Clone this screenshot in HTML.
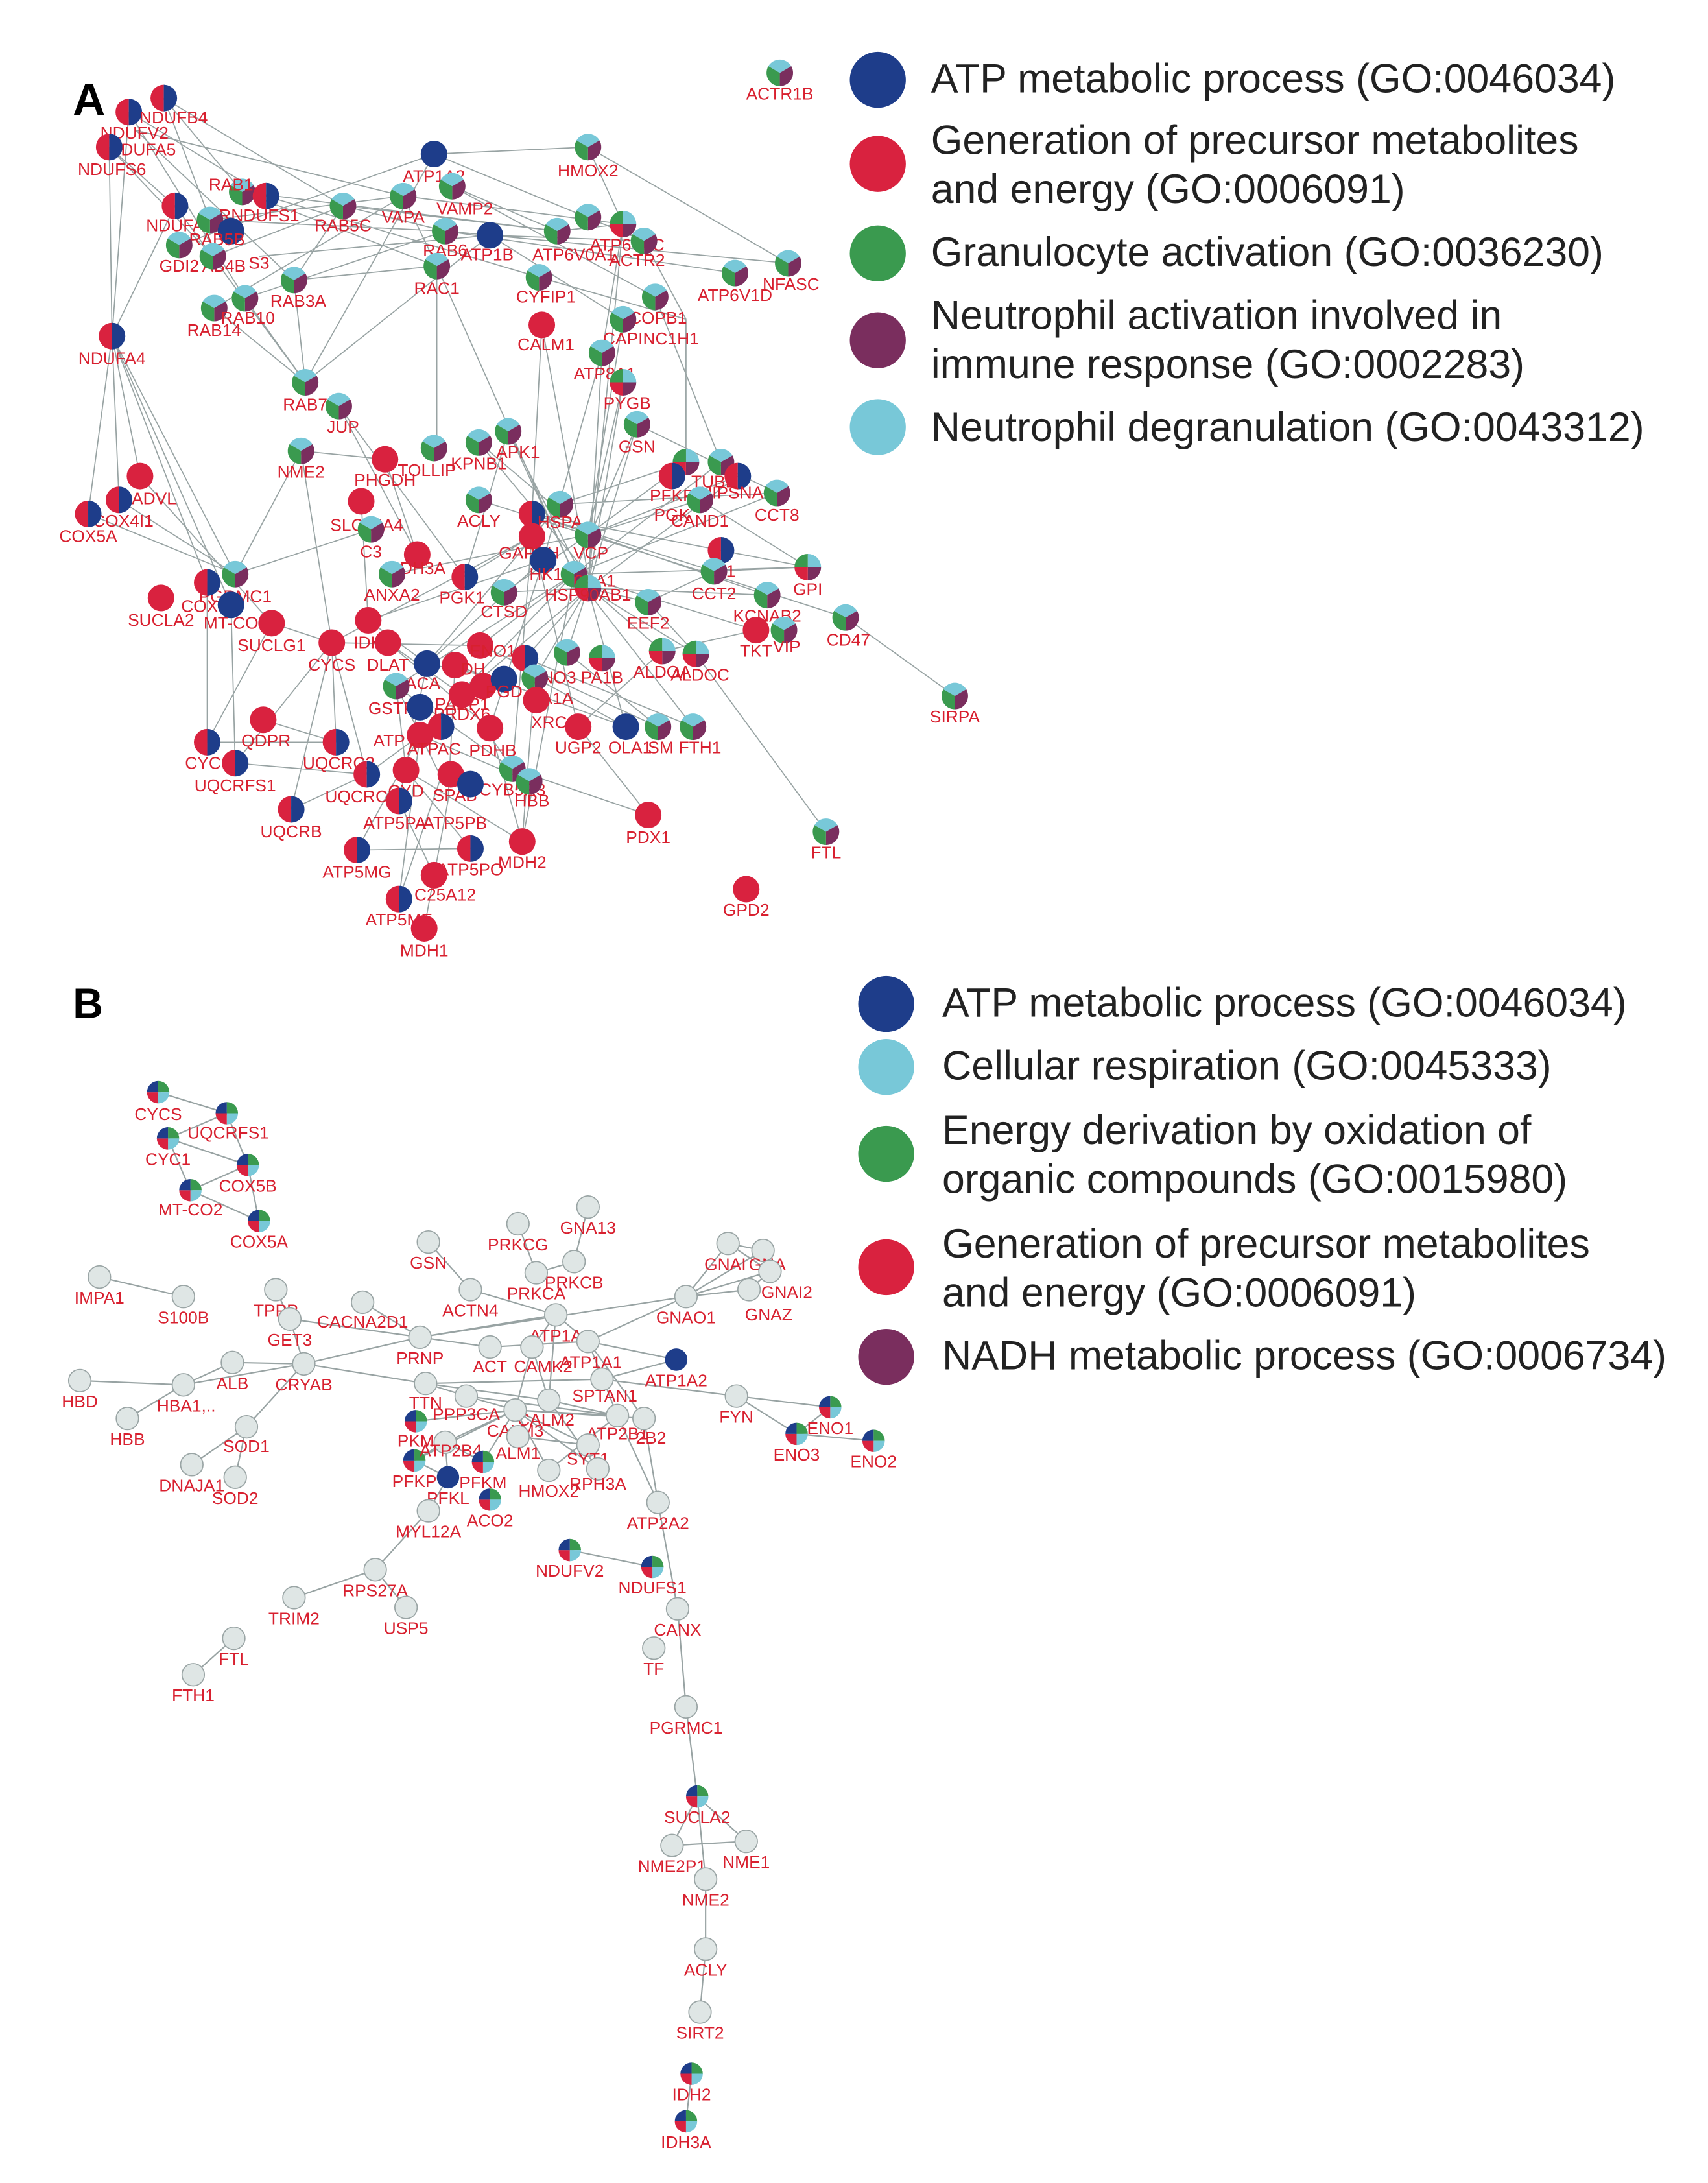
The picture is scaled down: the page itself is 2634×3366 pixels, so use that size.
<!DOCTYPE html>
<html><head><meta charset="utf-8"><style>
html,body{margin:0;padding:0;background:#fff;}
svg{display:block;}
text{font-family:"Liberation Sans",sans-serif;}
.l{fill:#d8202f;font-size:12.2px;text-anchor:middle;}
.g{font-size:29px;fill:#222;}
</style></head><body>
<svg width="2634" height="3366" viewBox="0 0 1220 1559" xmlns="http://www.w3.org/2000/svg">
<defs>
<g id="R"><circle r="9.5" fill="#d9223f"/></g>
<g id="B"><circle r="9.5" fill="#1e3d8a"/></g>
<g id="BR"><path d="M0,-9.5A9.5,9.5 0 0,0 0,9.5Z" fill="#d9223f"/><path d="M0,-9.5A9.5,9.5 0 0,1 0,9.5Z" fill="#1e3d8a"/></g>
<g id="P"><path d="M0,0L-8.2,-4.75A9.5,9.5 0 0,1 8.2,-4.75Z" fill="#78c8d8"/><path d="M0,0L8.2,-4.75A9.5,9.5 0 0,1 0,9.5Z" fill="#7a2e5e"/><path d="M0,0L0,9.5A9.5,9.5 0 0,1 -8.2,-4.75Z" fill="#3a9a4f"/></g>
<g id="Q"><path d="M0,0L0,-9.5A9.5,9.5 0 0,1 9.5,0Z" fill="#78c8d8"/><path d="M0,0L9.5,0A9.5,9.5 0 0,1 0,9.5Z" fill="#7a2e5e"/><path d="M0,0L0,9.5A9.5,9.5 0 0,1 -9.5,0Z" fill="#d9223f"/><path d="M0,0L-9.5,0A9.5,9.5 0 0,1 0,-9.5Z" fill="#3a9a4f"/></g>
<g id="G"><circle r="8" fill="#dfe6e5" stroke="#9aa5a5" stroke-width="0.8"/></g>
<g id="F"><path d="M0,0L0,-8A8,8 0 0,1 8,0Z" fill="#3a9a4f"/><path d="M0,0L8,0A8,8 0 0,1 0,8Z" fill="#78c8d8"/><path d="M0,0L0,8A8,8 0 0,1 -8,0Z" fill="#d9223f"/><path d="M0,0L-8,0A8,8 0 0,1 0,-8Z" fill="#1e3d8a"/></g>
<g id="BB"><circle r="8" fill="#1e3d8a"/></g>
</defs>

<!-- Legend A -->
<circle cx="627" cy="57" r="20" fill="#1e3d8a"/>
<circle cx="627" cy="117" r="20" fill="#d9223f"/>
<circle cx="627" cy="181" r="20" fill="#3a9a4f"/>
<circle cx="627" cy="243" r="20" fill="#7a2e5e"/>
<circle cx="627" cy="305" r="20" fill="#78c8d8"/>
<text class="g" x="665" y="66">ATP metabolic process (GO:0046034)</text>
<text class="g" x="665" y="110">Generation of precursor metabolites</text>
<text class="g" x="665" y="145">and energy (GO:0006091)</text>
<text class="g" x="665" y="190">Granulocyte activation (GO:0036230)</text>
<text class="g" x="665" y="235">Neutrophil activation involved in</text>
<text class="g" x="665" y="270">immune response (GO:0002283)</text>
<text class="g" x="665" y="315">Neutrophil degranulation (GO:0043312)</text>

<!-- Legend B -->
<circle cx="633" cy="717" r="20" fill="#1e3d8a"/>
<circle cx="633" cy="762" r="20" fill="#78c8d8"/>
<circle cx="633" cy="824" r="20" fill="#3a9a4f"/>
<circle cx="633" cy="905" r="20" fill="#d9223f"/>
<circle cx="633" cy="969" r="20" fill="#7a2e5e"/>
<text class="g" x="673" y="726">ATP metabolic process (GO:0046034)</text>
<text class="g" x="673" y="771">Cellular respiration (GO:0045333)</text>
<text class="g" x="673" y="817">Energy derivation by oxidation of</text>
<text class="g" x="673" y="852">organic compounds (GO:0015980)</text>
<text class="g" x="673" y="898">Generation of precursor metabolites</text>
<text class="g" x="673" y="933">and energy (GO:0006091)</text>
<text class="g" x="673" y="978">NADH metabolic process (GO:0006734)</text>

<text x="52" y="82" font-size="32" font-weight="bold" fill="#000">A</text>
<text x="52" y="727" font-size="30" font-weight="bold" fill="#000">B</text>

<!-- Edges A -->
<path stroke="#98a3a3" stroke-width="0.8" fill="none" d="
M117,70L173,137 M117,70L245,147 M117,70L150,157 M92,80L80,240 M92,80L175,213 M92,80L190,140 M78,105L80,240 M78,105L152,183 M78,105L125,147 M97,93L210,200 M97,93L288,140
M125,147L80,240 M125,147L218,273 M150,157L318,165 M150,157L288,140 M173,137L398,165 M173,137L312,190 M190,140L385,198 M128,175L310,110 M152,183L245,147 M185,183L350,168 M175,213L318,165 M153,220L288,140 M210,200L312,190 M210,200L245,147 M210,200L218,273 M175,213L218,273 M153,220L218,273 M245,147L318,165 M245,147L398,165 M288,140L445,160 M288,140L312,190 M310,110L420,105 M310,110L460,172 M323,133L468,212 M323,133L398,165 M318,165L563,188 M318,165L525,195 M350,168L460,172 M350,168L445,228 M312,190L312,320 M312,190L410,410 M385,198L490,228 M398,165L445,160 M420,105L563,188 M420,105L445,160 M445,160L430,252 M460,172L490,228 M468,212L515,330 M490,228L490,330 M445,228L420,382 M387,232L420,410 M387,232L380,367 M430,252L420,420 M445,273L420,382 M455,303L555,352 M455,303L420,420 M218,273L350,168 M218,273L310,110 M242,290L298,396 M242,290L332,412 M80,240L63,367 M80,240L85,357 M80,240L100,340 M80,240L148,416 M80,240L165,432 M80,240L168,410 M63,367L168,410 M85,357L168,410 M100,340L194,445 M215,322L168,410 M215,322L237,459 M215,322L275,328 M275,328L298,396 M258,358L263,443 M265,378L168,410 M342,316L420,410 M363,308L420,420 M363,308L332,412 M342,357L420,382 M380,367L577,405 M380,367L548,425 M380,367L510,408 M420,382L490,330 M420,382L527,340 M420,382L500,357 M410,410L555,352 M410,410L473,465 M420,420L497,467 M420,420L463,430 M410,410L540,450 M410,410L343,461 M420,420L375,470 M410,410L283,490 M420,420L360,423 M420,382L280,410 M420,420L405,466 M388,400L305,474 M388,400L350,520 M380,383L413,519 M380,383L366,549 M410,410L300,525 M420,420L330,496 M420,420L382,484 M410,410L373,601 M388,400L263,443 M380,383L237,459 M380,383L332,412 M420,382L604,441 M604,441L682,497 M497,467L590,594 M473,465L540,450 M473,465L413,519 M463,430L497,467 M463,430L510,408 M510,408L577,405 M500,357L577,405
M420,420L445,273 M410,410L455,303 M420,382L445,228 M410,410L515,330 M420,420L527,340 M420,382L342,316 M410,410L363,308 M420,420L445,160 M388,400L430,252 M400,360L490,330 M400,360L555,352 M420,420L548,425 M410,410L577,405 M420,382L360,423 M400,360L305,474 M420,420L447,519 M410,410L495,519
M148,416L148,530 M165,432L168,545 M194,445L148,530 M194,445L237,459 M237,459L168,545 M237,459L240,530 M237,459L262,553 M237,459L208,578 M237,459L343,461 M263,443L305,474 M277,459L330,496 M277,459L350,520 M283,490L366,549 M300,525L255,607 M300,525L285,642 M290,550L336,606 M290,550L373,601 M315,555L285,642 M320,572L303,663 M350,520L373,601 M366,549L463,582 M382,484L373,601 M413,519L463,582 M188,514L240,530 M148,530L240,530 M168,545L262,553 M208,578L262,553 M262,553L300,525 M255,607L336,606 M285,572L310,625 M305,474L360,485 M325,475L447,519 M343,461L470,519 M375,470L495,519 M405,466L470,519 M382,484L447,519 M330,496L366,549 M300,525L378,558 M283,490L290,550 M283,490L315,555 M305,474L285,572 M325,475L320,572
"/>

<!-- Nodes A -->
<use href="#P" x="557" y="52"/><text class="l" x="557" y="71">ACTR1B</text>
<use href="#BR" x="92" y="80"/><use href="#BR" x="117" y="70"/><text class="l" x="124" y="88">NDUFB4</text><text class="l" x="96" y="99">NDUFV2</text>
<use href="#BR" x="78" y="105"/><text class="l" x="106" y="111">DUFA5</text><text class="l" x="80" y="125">NDUFS6</text>
<use href="#P" x="173" y="137"/><use href="#BR" x="190" y="140"/><text class="l" x="165" y="136">RAB1</text><text class="l" x="185" y="158">RNDUFS1</text>
<use href="#BR" x="125" y="147"/><text class="l" x="125" y="165">NDUFA</text>
<use href="#P" x="150" y="157"/><use href="#B" x="165" y="165"/><text class="l" x="155" y="175">RAB5B</text>
<use href="#P" x="128" y="175"/><text class="l" x="128" y="194">GDI2</text><text class="l" x="160" y="194">AB4B</text><text class="l" x="185" y="192">S3</text>
<use href="#P" x="152" y="183"/><use href="#P" x="175" y="213"/><use href="#P" x="153" y="220"/><text class="l" x="177" y="231">RAB10</text><text class="l" x="153" y="240">RAB14</text>
<use href="#P" x="210" y="200"/><text class="l" x="213" y="219">RAB3A</text>
<use href="#P" x="245" y="147"/><text class="l" x="245" y="165">RAB5C</text>
<use href="#P" x="288" y="140"/><text class="l" x="288" y="159">VAPA</text>
<use href="#B" x="310" y="110"/><text class="l" x="310" y="130">ATP1A2</text>
<use href="#P" x="323" y="133"/><text class="l" x="332" y="153">VAMP2</text>
<use href="#P" x="318" y="165"/><text class="l" x="318" y="183">RAB6</text>
<use href="#B" x="350" y="168"/><text class="l" x="348" y="186">ATP1B</text>
<use href="#P" x="312" y="190"/><text class="l" x="312" y="210">RAC1</text>
<use href="#P" x="420" y="105"/><text class="l" x="420" y="126">HMOX2</text>
<use href="#P" x="398" y="165"/><use href="#P" x="420" y="155"/><text class="l" x="410" y="186">ATP6V0A1</text>
<use href="#Q" x="445" y="160"/><text class="l" x="448" y="179">ATP6V0C</text>
<use href="#P" x="460" y="172"/><text class="l" x="455" y="190">ACTR2</text>
<use href="#P" x="525" y="195"/><text class="l" x="525" y="215">ATP6V1D</text>
<use href="#P" x="563" y="188"/><text class="l" x="565" y="207">NFASC</text>
<use href="#P" x="385" y="198"/><text class="l" x="390" y="216">CYFIP1</text>
<use href="#P" x="468" y="212"/><text class="l" x="470" y="231">COPB1</text>
<use href="#R" x="387" y="232"/><text class="l" x="390" y="250">CALM1</text>
<use href="#P" x="445" y="228"/><text class="l" x="465" y="246">CAPINC1H1</text>
<use href="#P" x="430" y="252"/><text class="l" x="432" y="271">ATP8A1</text>
<use href="#Q" x="445" y="273"/><text class="l" x="448" y="292">PYGB</text>
<use href="#P" x="455" y="303"/><text class="l" x="455" y="323">GSN</text>
<use href="#BR" x="80" y="240"/><text class="l" x="80" y="260">NDUFA4</text>
<use href="#P" x="218" y="273"/><use href="#P" x="242" y="290"/><text class="l" x="218" y="293">RAB7</text><text class="l" x="245" y="309">JUP</text>
<use href="#P" x="215" y="322"/><text class="l" x="215" y="341">NME2</text>
<use href="#R" x="275" y="328"/><text class="l" x="275" y="347">PHGDH</text>
<use href="#P" x="310" y="320"/><text class="l" x="305" y="340">TOLLIP</text>
<use href="#P" x="342" y="316"/><text class="l" x="342" y="335">KPNB1</text>
<use href="#P" x="363" y="308"/><text class="l" x="370" y="327">APK1</text>
<use href="#R" x="100" y="340"/><text class="l" x="110" y="360">ADVL</text>
<use href="#BR" x="85" y="357"/><text class="l" x="88" y="376">COX4I1</text>
<use href="#BR" x="63" y="367"/><text class="l" x="63" y="387">COX5A</text>
<use href="#R" x="258" y="358"/><text class="l" x="262" y="379">SLC25A4</text>
<use href="#P" x="265" y="378"/><text class="l" x="265" y="398">C3</text>
<use href="#P" x="342" y="357"/><text class="l" x="342" y="376">ACLY</text>
<use href="#BR" x="380" y="367"/><use href="#P" x="400" y="360"/><text class="l" x="400" y="377">HSPA</text>
<use href="#Q" x="490" y="330"/><use href="#BR" x="480" y="340"/><text class="l" x="480" y="358">PFKP</text><text class="l" x="480" y="372">PGK</text>
<use href="#P" x="515" y="330"/><text class="l" x="510" y="348">TUBB</text>
<use href="#BR" x="527" y="340"/><text class="l" x="530" y="356">NIPSNAP2</text>
<use href="#P" x="500" y="357"/><text class="l" x="500" y="376">CAND1</text>
<use href="#P" x="555" y="352"/><text class="l" x="555" y="372">CCT8</text>
<use href="#R" x="298" y="396"/><text class="l" x="302" y="410">DH3A</text>
<use href="#R" x="380" y="383"/><text class="l" x="378" y="399">GAPDH</text>
<use href="#B" x="388" y="400"/><text class="l" x="390" y="414">HK1</text>
<use href="#P" x="420" y="382"/><text class="l" x="422" y="399">VCP</text>
<use href="#P" x="280" y="410"/><text class="l" x="280" y="429">ANXA2</text>
<use href="#BR" x="332" y="412"/><text class="l" x="330" y="431">PGK1</text>
<use href="#P" x="410" y="410"/><text class="l" x="425" y="419">0AA1</text>
<use href="#Q" x="420" y="420"/><text class="l" x="420" y="429">HSP90AB1</text>
<use href="#P" x="168" y="410"/><text class="l" x="168" y="430">PGRMC1</text>
<use href="#R" x="115" y="427"/><text class="l" x="115" y="447">SUCLA2</text>
<use href="#BR" x="148" y="416"/><text class="l" x="150" y="437">COX5B</text>
<use href="#B" x="165" y="432"/><text class="l" x="165" y="449">MT-CO</text>
<use href="#P" x="360" y="423"/><text class="l" x="360" y="441">CTSD</text>
<use href="#BR" x="515" y="393"/><use href="#P" x="510" y="408"/><text class="l" x="522" y="412">1</text><text class="l" x="510" y="428">CCT2</text>
<use href="#Q" x="577" y="405"/><text class="l" x="577" y="425">GPI</text>
<use href="#P" x="548" y="425"/><text class="l" x="548" y="444">KCNAB2</text>
<use href="#P" x="463" y="430"/><text class="l" x="463" y="449">EEF2</text>
<use href="#R" x="194" y="445"/><text class="l" x="194" y="465">SUCLG1</text>
<use href="#R" x="263" y="443"/><text class="l" x="263" y="463">IDH</text>
<use href="#R" x="277" y="459"/><text class="l" x="277" y="479">DLAT</text>
<use href="#R" x="237" y="459"/><text class="l" x="237" y="479">CYCS</text>
<use href="#R" x="343" y="461"/><text class="l" x="352" y="469">ENO1</text>
<use href="#BR" x="375" y="470"/><text class="l" x="395" y="488">ENO3</text>
<use href="#P" x="405" y="466"/><use href="#Q" x="430" y="470"/><text class="l" x="430" y="488">PA1B</text>
<use href="#Q" x="473" y="465"/><text class="l" x="473" y="484">ALDOA</text>
<use href="#R" x="540" y="450"/><text class="l" x="540" y="469">TKT</text>
<use href="#P" x="560" y="450"/><text class="l" x="562" y="466">VIP</text>
<use href="#P" x="604" y="441"/><text class="l" x="606" y="461">CD47</text>
<use href="#Q" x="497" y="467"/><text class="l" x="500" y="486">ALDOC</text>
<use href="#P" x="682" y="497"/><text class="l" x="682" y="516">SIRPA</text>
<use href="#B" x="305" y="474"/><text class="l" x="302" y="492">ACA</text>
<use href="#R" x="325" y="475"/><text class="l" x="338" y="482">DH</text>
<use href="#R" x="345" y="490"/><text class="l" x="330" y="507">PARP1</text>
<use href="#B" x="360" y="485"/><text class="l" x="360" y="498">PGD</text>
<use href="#P" x="283" y="490"/><text class="l" x="283" y="510">GSTP1</text>
<use href="#B" x="300" y="505"/><text class="l" x="278" y="533">ATP</text>
<use href="#R" x="330" y="496"/><text class="l" x="330" y="514">PRDX6</text>
<use href="#P" x="382" y="484"/><text class="l" x="398" y="503">A1A</text>
<use href="#R" x="383" y="500"/><text class="l" x="400" y="520">XRCC6</text>
<use href="#R" x="413" y="519"/><text class="l" x="413" y="538">UGP2</text>
<use href="#B" x="447" y="519"/><text class="l" x="450" y="538">OLA1</text>
<use href="#P" x="470" y="519"/><text class="l" x="472" y="538">SM</text>
<use href="#P" x="495" y="519"/><text class="l" x="500" y="538">FTH1</text>
<use href="#R" x="300" y="525"/><use href="#BR" x="315" y="519"/><text class="l" x="310" y="539">ATPAC</text>
<use href="#R" x="350" y="520"/><text class="l" x="352" y="540">PDHB</text>
<use href="#R" x="188" y="514"/><text class="l" x="190" y="533">QDPR</text>
<use href="#BR" x="148" y="530"/><text class="l" x="145" y="549">CYC</text>
<use href="#BR" x="168" y="545"/><text class="l" x="168" y="565">UQCRFS1</text>
<use href="#BR" x="240" y="530"/><text class="l" x="242" y="549">UQCRC2</text>
<use href="#BR" x="262" y="553"/><text class="l" x="258" y="573">UQCRC1</text>
<use href="#P" x="366" y="549"/><text class="l" x="366" y="568">CYB5R3</text>
<use href="#P" x="378" y="558"/><text class="l" x="380" y="576">HBB</text>
<use href="#R" x="290" y="550"/><text class="l" x="290" y="569">CYD</text>
<use href="#R" x="322" y="553"/><text class="l" x="325" y="572">SPAB</text>
<use href="#BR" x="285" y="572"/><use href="#B" x="336" y="560"/><text class="l" x="282" y="592">ATP5PA</text><text class="l" x="325" y="592">ATP5PB</text>
<use href="#BR" x="208" y="578"/><text class="l" x="208" y="598">UQCRB</text>
<use href="#R" x="463" y="582"/><text class="l" x="463" y="602">PDX1</text>
<use href="#P" x="590" y="594"/><text class="l" x="590" y="613">FTL</text>
<use href="#BR" x="255" y="607"/><text class="l" x="255" y="627">ATP5MG</text>
<use href="#BR" x="336" y="606"/><text class="l" x="336" y="625">ATP5PO</text>
<use href="#R" x="373" y="601"/><text class="l" x="373" y="620">MDH2</text>
<use href="#R" x="310" y="625"/><text class="l" x="318" y="643">C25A12</text>
<use href="#BR" x="285" y="642"/><text class="l" x="285" y="661">ATP5ME</text>
<use href="#R" x="303" y="663"/><text class="l" x="303" y="683">MDH1</text>
<use href="#R" x="533" y="635"/><text class="l" x="533" y="654">GPD2</text>

<!-- Edges B -->
<path stroke="#98a3a3" stroke-width="1" fill="none" d="
M113,780L162,795 M162,795L120,813 M120,813L177,832 M177,832L136,850 M136,850L185,872 M120,813L136,850 M162,795L177,832 M177,832L185,872
M71,912L131,926 M57,986L131,989 M131,989L166,973 M131,989L217,974 M91,1013L131,989 M166,973L217,974 M217,974L207,942 M207,942L197,921 M207,942L300,955 M259,930L300,955 M217,974L300,955 M217,974L304,988 M217,974L176,1019 M176,1019L137,1046 M176,1019L168,1055
M306,887L336,921 M336,921L397,939 M370,874L383,909 M420,862L410,901 M383,909L410,901 M300,955L397,939 M300,955L490,926 M300,955L350,962 M350,962L420,958 M380,962L397,939 M397,939L420,958 M420,958L483,971 M420,958L490,926 M490,926L520,888 M490,926L545,893 M490,926L550,908 M490,926L535,921 M520,888L545,893 M520,888L550,908 M545,893L550,908 M535,921L550,908 M430,985L526,997 M430,985L483,971 M526,997L593,1005 M526,997L569,1024 M569,1024L624,1029 M593,1005L569,1024 M304,988L333,997 M304,988L430,985 M304,988L392,1000 M333,997L441,1011 M333,997L368,1007 M368,1007L441,1011 M368,1007L460,1013 M392,1000L441,1011 M392,1000L380,962 M380,962L368,1007 M397,939L392,1000 M420,958L441,1011 M420,958L460,1013 M368,1007L297,1015 M368,1007L296,1043 M368,1007L345,1044 M368,1007L420,1032 M368,1007L427,1049 M368,1007L392,1050 M318,1030L296,1043 M318,1030L345,1044 M318,1030L320,1055 M318,1030L368,1007 M370,1026L420,1032 M441,1011L470,1073 M460,1013L470,1073 M296,1043L320,1055 M320,1055L306,1079 M306,1079L268,1121 M268,1121L210,1141 M268,1121L290,1148 M167,1170L138,1196 M407,1107L466,1119 M470,1073L484,1149 M484,1149L490,1219 M490,1219L498,1283 M498,1283L480,1318 M498,1283L533,1315 M498,1283L504,1342 M480,1318L533,1315 M504,1342L504,1392 M504,1392L500,1437 M494,1481L490,1515 M392,1000L427,1049 M441,1011L392,1050
"/>

<!-- Nodes B -->
<use href="#F" x="113" y="780"/><text class="l" x="113" y="800">CYCS</text>
<use href="#F" x="162" y="795"/><text class="l" x="163" y="813">UQCRFS1</text>
<use href="#F" x="120" y="813"/><text class="l" x="120" y="832">CYC1</text>
<use href="#F" x="177" y="832"/><text class="l" x="177" y="851">COX5B</text>
<use href="#F" x="136" y="850"/><text class="l" x="136" y="868">MT-CO2</text>
<use href="#F" x="185" y="872"/><text class="l" x="185" y="891">COX5A</text>
<use href="#G" x="71" y="912"/><text class="l" x="71" y="931">IMPA1</text>
<use href="#G" x="131" y="926"/><text class="l" x="131" y="945">S100B</text>
<use href="#G" x="197" y="921"/><text class="l" x="197" y="940">TPPP</text>
<use href="#G" x="207" y="942"/><text class="l" x="207" y="961">GET3</text>
<use href="#G" x="259" y="930"/><text class="l" x="259" y="948">CACNA2D1</text>
<use href="#G" x="306" y="887"/><text class="l" x="306" y="906">GSN</text>
<use href="#G" x="370" y="874"/><text class="l" x="370" y="893">PRKCG</text>
<use href="#G" x="420" y="862"/><text class="l" x="420" y="881">GNA13</text>
<use href="#G" x="410" y="901"/><text class="l" x="410" y="920">PRKCB</text>
<use href="#G" x="383" y="909"/><text class="l" x="383" y="928">PRKCA</text>
<use href="#G" x="336" y="921"/><text class="l" x="336" y="940">ACTN4</text>
<use href="#G" x="397" y="939"/><text class="l" x="397" y="958">ATP1A</text>
<use href="#G" x="300" y="955"/><text class="l" x="300" y="974">PRNP</text>
<use href="#G" x="350" y="962"/><text class="l" x="350" y="980">ACT</text>
<use href="#G" x="380" y="962"/><text class="l" x="388" y="980">CAMK2</text>
<use href="#G" x="420" y="958"/><text class="l" x="422" y="977">ATP1A1</text>
<use href="#G" x="490" y="926"/><text class="l" x="490" y="945">GNAO1</text>
<use href="#G" x="520" y="888"/><text class="l" x="518" y="907">GNAI</text>
<use href="#G" x="545" y="893"/><text class="l" x="548" y="907">GNA</text>
<use href="#G" x="550" y="908"/><text class="l" x="562" y="927">GNAI2</text>
<use href="#G" x="535" y="921"/><text class="l" x="549" y="943">GNAZ</text>
<use href="#BB" x="483" y="971"/><text class="l" x="483" y="990">ATP1A2</text>
<use href="#G" x="57" y="986"/><text class="l" x="57" y="1005">HBD</text>
<use href="#G" x="131" y="989"/><text class="l" x="133" y="1008">HBA1,..</text>
<use href="#G" x="166" y="973"/><text class="l" x="166" y="992">ALB</text>
<use href="#G" x="217" y="974"/><text class="l" x="217" y="993">CRYAB</text>
<use href="#G" x="304" y="988"/><text class="l" x="304" y="1006">TTN</text>
<use href="#G" x="430" y="985"/><text class="l" x="432" y="1001">SPTAN1</text>
<use href="#G" x="526" y="997"/><text class="l" x="526" y="1016">FYN</text>
<use href="#F" x="593" y="1005"/><text class="l" x="593" y="1024">ENO1</text>
<use href="#F" x="569" y="1024"/><text class="l" x="569" y="1043">ENO3</text>
<use href="#F" x="624" y="1029"/><text class="l" x="624" y="1048">ENO2</text>
<use href="#G" x="91" y="1013"/><text class="l" x="91" y="1032">HBB</text>
<use href="#G" x="176" y="1019"/><text class="l" x="176" y="1037">SOD1</text>
<use href="#G" x="333" y="997"/><text class="l" x="333" y="1014">PPP3CA</text>
<use href="#G" x="392" y="1000"/><text class="l" x="390" y="1018">CALM2</text>
<use href="#G" x="368" y="1007"/><text class="l" x="368" y="1026">CALM3</text>
<use href="#G" x="441" y="1011"/><text class="l" x="441" y="1028">ATP2B1</text>
<use href="#G" x="460" y="1013"/><text class="l" x="465" y="1031">2B2</text>
<use href="#F" x="297" y="1015"/><text class="l" x="297" y="1033">PKM</text>
<use href="#G" x="137" y="1046"/><text class="l" x="137" y="1065">DNAJA1</text>
<use href="#G" x="168" y="1055"/><text class="l" x="168" y="1074">SOD2</text>
<use href="#F" x="296" y="1043"/><text class="l" x="296" y="1062">PFKP</text>
<use href="#G" x="318" y="1030"/><text class="l" x="322" y="1040">ATP2B4</text>
<use href="#G" x="370" y="1026"/><text class="l" x="370" y="1042">ALM1</text>
<use href="#F" x="345" y="1044"/><text class="l" x="345" y="1063">PFKM</text>
<use href="#G" x="420" y="1032"/><text class="l" x="420" y="1046">SYT1</text>
<use href="#G" x="392" y="1050"/><text class="l" x="392" y="1069">HMOX2</text>
<use href="#G" x="427" y="1049"/><text class="l" x="427" y="1064">RPH3A</text>
<use href="#BB" x="320" y="1055"/><text class="l" x="320" y="1074">PFKL</text>
<use href="#F" x="350" y="1071"/><text class="l" x="350" y="1090">ACO2</text>
<use href="#G" x="306" y="1079"/><text class="l" x="306" y="1098">MYL12A</text>
<use href="#G" x="470" y="1073"/><text class="l" x="470" y="1092">ATP2A2</text>
<use href="#F" x="407" y="1107"/><text class="l" x="407" y="1126">NDUFV2</text>
<use href="#F" x="466" y="1119"/><text class="l" x="466" y="1138">NDUFS1</text>
<use href="#G" x="268" y="1121"/><text class="l" x="268" y="1140">RPS27A</text>
<use href="#G" x="210" y="1141"/><text class="l" x="210" y="1160">TRIM2</text>
<use href="#G" x="290" y="1148"/><text class="l" x="290" y="1167">USP5</text>
<use href="#G" x="484" y="1149"/><text class="l" x="484" y="1168">CANX</text>
<use href="#G" x="467" y="1177"/><text class="l" x="467" y="1196">TF</text>
<use href="#G" x="167" y="1170"/><text class="l" x="167" y="1189">FTL</text>
<use href="#G" x="138" y="1196"/><text class="l" x="138" y="1215">FTH1</text>
<use href="#G" x="490" y="1219"/><text class="l" x="490" y="1238">PGRMC1</text>
<use href="#F" x="498" y="1283"/><text class="l" x="498" y="1302">SUCLA2</text>
<use href="#G" x="480" y="1318"/><text class="l" x="480" y="1337">NME2P1</text>
<use href="#G" x="533" y="1315"/><text class="l" x="533" y="1334">NME1</text>
<use href="#G" x="504" y="1342"/><text class="l" x="504" y="1361">NME2</text>
<use href="#G" x="504" y="1392"/><text class="l" x="504" y="1411">ACLY</text>
<use href="#G" x="500" y="1437"/><text class="l" x="500" y="1456">SIRT2</text>
<use href="#F" x="494" y="1481"/><text class="l" x="494" y="1500">IDH2</text>
<use href="#F" x="490" y="1515"/><text class="l" x="490" y="1534">IDH3A</text>
</svg>
</body></html>
